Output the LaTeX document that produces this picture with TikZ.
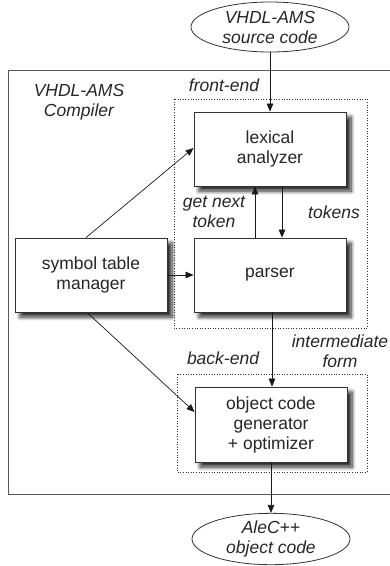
\documentclass[tikz,border=0pt]{standalone}
\usepackage{fontspec}
\setmainfont{Liberation Sans}
\usetikzlibrary{arrows.meta,shapes.geometric,shadows.blur}
\tikzset{
  box/.style={draw=black!80, line width=0.8pt, fill=white, minimum width=152pt, minimum height=74pt,
    inner sep=0pt, align=center, text=black!85,
    font=\fontsize{17.5}{20}\selectfont,
    blur shadow={shadow xshift=5pt, shadow yshift=-5pt, shadow blur steps=8, shadow blur radius=4pt, shadow opacity=85}},
  oval/.style={draw=black!80, line width=0.8pt, ellipse, minimum width=158pt, minimum height=50pt,
    inner sep=0pt, align=center, text=black!85, font=\fontsize{17.5}{20}\selectfont\itshape},
  lbl/.style={align=center, inner sep=0pt, text=black!85, font=\fontsize{17.5}{20}\selectfont\itshape},
  frame/.style={draw=black!80, dotted, line width=0.6pt},
  arr/.style={draw=black!90, line width=0.7pt, -{Triangle[length=8pt,width=6.5pt]}}
}
\begin{document}
\begin{tikzpicture}[x=1pt,y=-1pt]
\useasboundingbox (0,0) rectangle (390,566);
% compiler outline (extends beyond right edge)
\draw[black!65, line width=1pt] (391,70) -- (8,70) -- (8,494) -- (391,494);
% front-end and back-end frames
\draw[frame] (174,99) rectangle (367,328);
\draw[frame] (177,374) rectangle (367,472);
% nodes
\node[oval] (src) at (270,27) {VHDL-AMS\\source code};
\node[oval] (dst) at (271,539) {AleC++\\object code};
\node[box] (lex) at (270,149) {lexical\\analyzer};
\node[box] (par) at (270,275) {parser};
\node[box] (sym) at (91,275) {symbol table\\manager};
\node[box, minimum height=75pt] (obj) at (271,424.5) {object code\\generator\\+ optimizer};
% labels
\node[lbl] (comp) at (79,102) {VHDL-AMS\\Compiler};
\node[lbl] (fe) at (224,85) {front-end};
\node[lbl] (gnt) at (214,212) {get next\\token};
\node[lbl] (tok) at (334,212) {tokens};
\node[lbl] (imf) at (340,351) {intermediate\\form};
\node[lbl] (be) at (223,358) {back-end};
% connectors
\draw[arr] (src.south) -- (lex.north);
\draw[arr] ([xshift=12pt]lex.south) -- ([xshift=12pt]par.north);
\draw[arr] ([xshift=-15pt]par.north) -- ([xshift=-15pt]lex.south);
\draw[arr] ([xshift=-5pt]sym.north) -- ([yshift=1pt]lex.west);
\draw[arr] (sym.east) -- (par.west);
\draw[arr] ([xshift=-4pt]sym.south) -- ([yshift=12.5pt]obj.west);
\draw[arr] ([xshift=2pt]par.south) -- ([xshift=1pt]obj.north);
\draw[arr] (obj.south) -- (dst.north);
\end{tikzpicture}
\end{document}
